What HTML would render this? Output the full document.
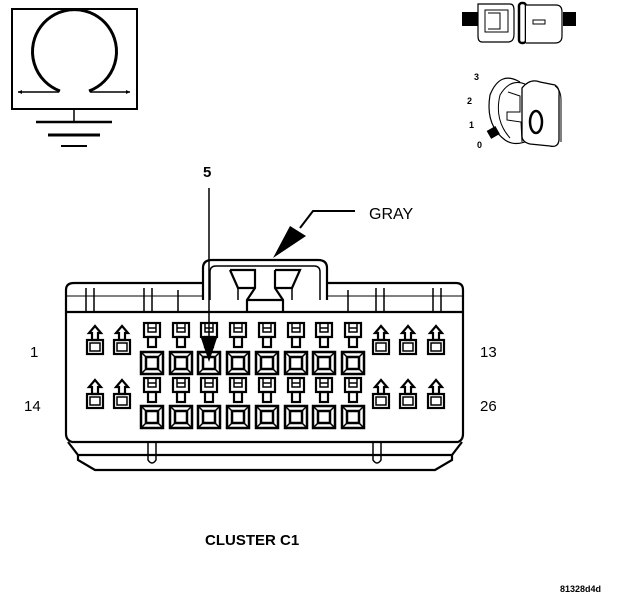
<!DOCTYPE html>
<html><head><style>
html,body{margin:0;padding:0;background:#fff;}
svg{display:block;}
text{font-family:"Liberation Sans",Arial,sans-serif;}
</style></head><body>
<svg width="624" height="600" viewBox="0 0 624 600" xmlns="http://www.w3.org/2000/svg">
<defs>
<g id="sq" fill="none" stroke="#000" stroke-width="2.5">
  <rect x="-11" y="0" width="22" height="22"/>
  <rect x="-6" y="5" width="12" height="12"/>
  <path d="M-11 0L-6 5M11 0L6 5M-11 22L-6 17M11 22L6 17" stroke-width="1.5"/>
</g>
<g id="h" fill="none" stroke="#000" stroke-width="2.2">
  <rect x="-8" y="0" width="16" height="14"/>
  <path d="M-4 0V9H4V0M-4 5H4" stroke-width="1.5"/>
  <rect x="-4" y="14" width="8" height="10"/>
</g>
<g id="pin" fill="none" stroke="#000" stroke-width="2.2">
  <path d="M0 0L-6 7H-3V14H3V7H6Z"/>
  <rect x="-8" y="14" width="16" height="14"/>
  <rect x="-5" y="17" width="10" height="8" stroke-width="1.5"/>
</g>
</defs>

<rect x="12" y="9" width="125" height="100" fill="none" stroke="#000" stroke-width="2"/>
<path d="M60 91 A42 42 0 1 1 89 91" fill="none" stroke="#000" stroke-width="3"/>
<path d="M18 92H59M90 92H130" stroke="#000" stroke-width="1.5"/>
<path d="M18 92l4-2v4zM130 92l-4-2v4z" fill="#000"/>
<path d="M74 109V121" stroke="#000" stroke-width="1.5"/>
<path d="M36 122H112" stroke="#000" stroke-width="2.5"/>
<path d="M48 135H100" stroke="#000" stroke-width="3"/>
<path d="M61 146H87" stroke="#000" stroke-width="2"/>

<rect x="462" y="12" width="16" height="14" fill="#000"/>
<rect x="563" y="12" width="13" height="14" fill="#000"/>
<path d="M478 4H510Q514 4 514 10V34Q514 42 508 42H482Q478 42 478 36Z" fill="#fff" stroke="#000" stroke-width="1.2"/>
<path d="M485 10H508V32H485ZM488 13H500V29H488" fill="none" stroke="#000" stroke-width="1"/>
<rect x="519" y="3" width="7" height="40" rx="3" fill="#fff" stroke="#000" stroke-width="2.5"/>
<path d="M526 5H556Q562 5 562 12V36Q562 43 555 43H526" fill="#fff" stroke="#000" stroke-width="1.2"/>
<path d="M533 20H545V24H533Z" fill="none" stroke="#000" stroke-width="1"/>
<path d="M520 82Q500 70 490 95Q485 125 505 140Q515 147 530 140" fill="none" stroke="#000" stroke-width="1.2"/>
<path d="M525 84Q510 78 500 95Q494 120 510 138" fill="none" stroke="#000" stroke-width="1"/>
<path d="M508 92L520 96V112L507 112V120L521 122L522 142" fill="none" stroke="#000" stroke-width="1"/>
<path d="M522 88Q530 78 540 82L555 85Q560 88 559 96V140Q558 148 550 146L530 144Q522 142 522 136Z" fill="#fff" stroke="#000" stroke-width="1.3"/>
<path d="M555 86Q561 90 561 100V142" fill="none" stroke="#000" stroke-width="1"/>
<ellipse cx="536" cy="122" rx="6" ry="11" fill="none" stroke="#000" stroke-width="2.5"/>
<rect x="488" y="128" width="10" height="9" transform="rotate(-30 493 132)" fill="#000"/>
<text x="474" y="80" font-size="9" font-weight="bold">3</text>
<text x="467" y="104" font-size="9" font-weight="bold">2</text>
<text x="469" y="128" font-size="9" font-weight="bold">1</text>
<text x="477" y="148" font-size="9" font-weight="bold">0</text>

<text x="203" y="177" font-size="15" font-weight="bold">5</text>
<text x="369" y="219" font-size="16">GRAY</text>
<text x="30" y="357" font-size="15">1</text>
<text x="480" y="357" font-size="15">13</text>
<text x="24" y="411" font-size="15">14</text>
<text x="480" y="411" font-size="15">26</text>
<text x="205" y="545" font-size="15" font-weight="bold">CLUSTER C1</text>
<text x="560" y="592" font-size="9" font-weight="bold">81328d4d</text>

<path d="M355 211H313L300 228" fill="none" stroke="#000" stroke-width="2"/>
<path d="M273 258L290 226L306 236Z" fill="#000"/>

<g fill="none" stroke="#000" stroke-width="2.2">
  <path d="M74 283H456Q463 283 463 290V434Q463 440 458 442H72Q66 440 66 434V290Q66 283 74 283Z" fill="#fff"/>
  <path d="M66 312H463"/>
  <path d="M66 296H463" stroke-width="1"/>
  <path d="M68 442L78 455H452L462 442"/>
  <path d="M78 455V460L95 470H435L452 460V455"/>
  <path d="M148 442V460Q152 466 156 460V442M373 442V460Q377 466 381 460V442" stroke-width="1.5"/>
  <path d="M86 312V288M94 312V288M144 312V288M152 312V288M376 312V288M384 312V288M433 312V288M441 312V288" stroke-width="1.5"/>
  <path d="M178 312V290M348 312V290" stroke-width="1.5"/>
  <path d="M203 300V268Q203 260 212 260H318Q327 260 327 268V300" fill="#fff"/>
  <path d="M210 300V272Q210 266 216 266H314Q320 266 320 272V300" stroke-width="1.5"/>
  <path d="M230 270H255V288L247 300V312M230 270L238 288H255M275 270H300L292 288H275M275 270V288L283 300V312M247 300H283"/>
  <path d="M238 288V300M292 288V300" stroke-width="1.5"/>
</g>

<g>
  <use href="#h" x="152" y="323"/><use href="#h" x="181" y="323"/><use href="#h" x="209" y="323"/><use href="#h" x="238" y="323"/>
  <use href="#h" x="267" y="323"/><use href="#h" x="296" y="323"/><use href="#h" x="324" y="323"/><use href="#h" x="353" y="323"/>
  <use href="#sq" x="152" y="352"/><use href="#sq" x="181" y="352"/><use href="#sq" x="209" y="352"/><use href="#sq" x="238" y="352"/>
  <use href="#sq" x="267" y="352"/><use href="#sq" x="296" y="352"/><use href="#sq" x="324" y="352"/><use href="#sq" x="353" y="352"/>
  <use href="#h" x="152" y="378"/><use href="#h" x="181" y="378"/><use href="#h" x="209" y="378"/><use href="#h" x="238" y="378"/>
  <use href="#h" x="267" y="378"/><use href="#h" x="296" y="378"/><use href="#h" x="324" y="378"/><use href="#h" x="353" y="378"/>
  <use href="#sq" x="152" y="406"/><use href="#sq" x="181" y="406"/><use href="#sq" x="209" y="406"/><use href="#sq" x="238" y="406"/>
  <use href="#sq" x="267" y="406"/><use href="#sq" x="296" y="406"/><use href="#sq" x="324" y="406"/><use href="#sq" x="353" y="406"/>
  <use href="#pin" x="95" y="326"/><use href="#pin" x="122" y="326"/><use href="#pin" x="381" y="326"/><use href="#pin" x="408" y="326"/><use href="#pin" x="436" y="326"/>
  <use href="#pin" x="95" y="380"/><use href="#pin" x="122" y="380"/><use href="#pin" x="381" y="380"/><use href="#pin" x="408" y="380"/><use href="#pin" x="436" y="380"/>
</g>

<path d="M209 188V340" stroke="#000" stroke-width="1.5"/>
<path d="M201 338H217L209 362Z" fill="#000"/>
</svg>
</body></html>
